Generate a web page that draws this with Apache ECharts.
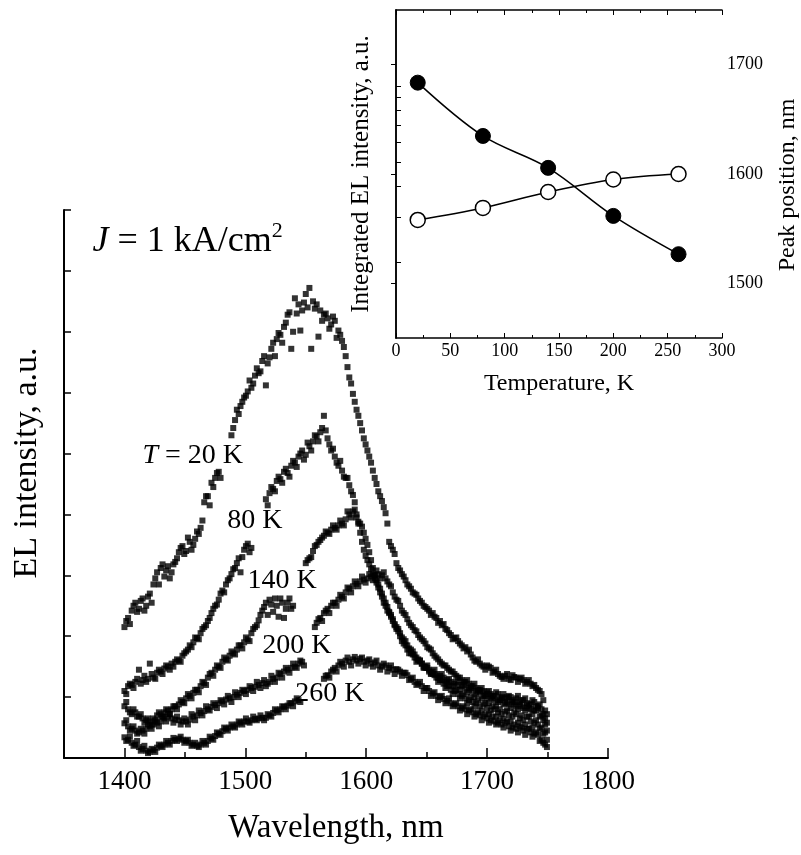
<!DOCTYPE html>
<html>
<head>
<meta charset="utf-8">
<script src="https://cdn.jsdelivr.net/npm/echarts@6/dist/echarts.min.js"></script>
<style>
html,body{margin:0;padding:0;background:#fff;}
#c{width:801px;height:855px;}
</style>
</head>
<body>
<div id="c"></div>
<script>
// ---- main panel: EL spectra (wavelength nm, intensity a.u.) ----
// readings along each point cloud, two interleaved sample sets (A and B)
const wavelengthsA = [1400,1403,1406,1409,1412,1415,1418,1421,1424,1427,1430,1433,1436,1439,1442,1445,1448,1451,1454,1457,1460,1463,1466,1469,1472,1475,1478,1481,1484,1487,1490,1493,1496,1499,1502,1505,1508,1511,1514,1517,1520,1523,1526,1529,1532,1535,1538,1541,1544,1547,1550,1553,1556,1559,1562,1565,1568,1571,1574,1577,1580,1583,1586,1589,1592,1595,1598,1601,1604,1607,1610,1613,1616,1619,1622,1625,1628,1631,1634,1637,1640,1643,1646,1649,1652,1655,1658,1661,1664,1667,1670,1673,1676,1679,1682,1685,1688,1691,1694,1697,1700,1703,1706,1709,1712,1715,1718,1721,1724,1727,1730,1733,1736,1739,1742,1745,1748];
const wavelengthsB = [
  1401.5,1404.5,1407.5,1410.5,1413.5,1416.5,1419.5,1422.5,1425.5,1428.5,
  1431.5,1434.5,1437.5,1440.5,1443.5,1446.5,1449.5,1452.5,1455.5,1458.5,
  1461.5,1464.5,1467.5,1470.5,1473.5,1476.5,1479.5,1482.5,1485.5,1488.5,
  1491.5,1494.5,1497.5,1500.5,1503.5,1506.5,1509.5,1512.5,1515.5,1518.5,
  1521.5,1524.5,1527.5,1530.5,1533.5,1536.5,1539.5,1542.5,1545.5,1548.5,
  1551.5,1554.5,1557.5,1560.5,1563.5,1566.5,1569.5,1572.5,1575.5,1578.5,
  1581.5,1584.5,1587.5,1590.5,1593.5,1596.5,1599.5,1602.5,1605.5,1608.5,
  1611.5,1614.5,1617.5,1620.5,1623.5,1626.5,1629.5,1632.5,1635.5,1638.5,
  1641.5,1644.5,1647.5,1650.5,1653.5,1656.5,1659.5,1662.5,1665.5,1668.5,
  1671.5,1674.5,1677.5,1680.5,1683.5,1686.5,1689.5,1692.5,1695.5,1698.5,
  1701.5,1704.5,1707.5,1710.5,1713.5,1716.5,1719.5,1722.5,1725.5,1728.5,
  1731.5,1734.5,1737.5,1740.5,1743.5,1746.5,1749.5];
// null = hidden behind a curve label in the original figure
const el20K_A  = [2.15,2.3,2.42,2.55,2.45,2.62,2.5,2.7,2.85,3.05,3.12,2.98,3.15,3.05,3.22,3.38,3.48,3.4,3.55,3.5,3.72,3.78,4.2,4.3,4.52,4.6,4.7,null,null,null,5.42,5.72,5.78,5.92,6.02,6.08,6.28,6.32,6.52,6.12,6.58,6.82,6.88,6.95,7.08,7.28,6.72,7.55,7.45,7.35,7.62,7.72,7.5,7.45,7.35,7.28,7.22,7.12,7.18,7.02,6.85,6.6,6.25,5.98,5.72,5.5,5.25,5.05,4.85,4.6,4.38,4.22,4.02,3.55,3.42,3.2,3.08,2.98,2.85,2.78,2.7,2.62,2.55,2.48,2.42,2.38,2.3,2.25,2.2,2.1,2.02,1.97,1.92,1.85,1.82,1.78,1.65,1.58,1.55,1.5,1.52,1.48,1.42,1.38,1.33,1.35,1.3,1.36,1.32,1.3,1.28,1.25,1.22,1.2,1.12,1.05,0.78];
const el20K_B  = [
  2.25,2.2,2.5,2.4,2.58,2.42,2.65,2.55,2.95,2.85,
  3.18,3.08,2.95,3.18,3.28,3.45,3.35,3.62,3.42,3.6,
  3.68,3.9,4.3,4.15,4.45,4.68,4.6,null,null,5.3,
  5.55,5.65,5.85,5.95,6.2,6.15,6.4,6.35,6.6,6.48,
  6.72,6.6,6.98,6.82,7.15,7.32,7.0,7.3,7.02,7.48,
  7.4,6.72,7.38,6.92,7.18,7.3,7.05,7.25,6.9,6.95,
  6.75,6.42,6.15,5.85,5.62,5.38,5.15,4.95,4.72,4.5,
  4.3,4.12,3.85,3.48,3.35,3.12,3.02,2.92,2.82,2.72,
  2.68,2.58,2.5,2.45,2.35,2.32,2.22,2.18,2.12,2.05,
  1.95,1.98,1.88,1.8,1.75,1.7,1.6,1.62,1.52,1.45,
  1.5,1.4,1.45,1.35,1.3,1.38,1.28,1.33,1.25,1.32,
  1.22,1.28,1.18,1.15,1.1,0.95,0.72];
const el80K_A  = [1.1,1.18,1.2,1.25,1.45,1.28,1.25,1.55,1.32,1.4,1.42,1.47,1.5,1.55,1.58,1.6,1.68,1.75,1.85,1.9,1.97,2.05,2.15,2.25,2.38,2.5,2.6,2.75,2.85,2.95,3.1,3.2,3.05,3.42,3.52,3.45,null,null,null,4.25,4.35,4.42,4.55,4.58,4.7,4.68,4.8,4.85,4.95,5.05,4.98,5.12,5.2,5.28,5.35,5.62,5.25,5.05,4.95,4.8,4.72,4.6,4.48,4.32,4.0,3.7,3.42,3.25,3.1,2.95,2.8,2.65,2.5,2.38,2.25,2.12,2.0,1.88,1.78,1.72,1.65,1.6,1.55,1.5,1.45,1.42,1.38,1.35,1.32,1.28,1.25,1.22,1.2,1.18,1.15,1.12,1.1,1.05,1.08,1.02,0.98,1.0,0.95,0.92,0.98,0.9,0.88,0.92,0.85,0.88,0.82,0.85,0.8,0.78,0.82,0.7,0.55];
const el80K_B  = [
  1.05,1.22,1.15,1.3,1.22,1.35,1.3,1.38,1.3,1.45,
  1.38,1.52,1.45,1.5,1.62,1.58,1.72,1.78,1.82,1.98,
  1.95,2.12,2.18,2.3,2.45,2.52,2.7,2.72,2.92,3.02,
  3.12,3.28,3.3,3.48,3.38,null,null,null,null,4.15,
  4.45,4.38,4.62,4.52,4.75,4.62,4.88,4.78,5.0,4.9,
  5.18,5.05,5.3,5.2,5.42,5.38,5.15,5.08,4.85,4.88,
  4.62,4.6,4.38,4.2,3.85,3.55,3.32,3.18,3.02,2.88,
  2.72,2.55,2.42,2.32,2.18,2.08,1.92,1.85,1.72,1.7,
  1.58,1.6,1.48,1.52,1.4,1.45,1.32,1.38,1.25,1.3,
  1.18,1.25,1.12,1.2,1.08,1.15,1.0,1.12,0.98,1.05,
  0.9,1.02,0.85,0.95,0.88,1.0,0.82,0.92,0.8,0.95,
  0.78,0.88,0.72,0.85,0.68,0.62,0.45];
const el140K_A = [0.85,0.8,0.72,0.75,0.68,0.65,0.62,0.6,0.65,0.7,0.72,0.75,0.78,0.8,0.85,0.88,0.92,0.98,1.02,1.07,1.12,1.18,1.23,1.32,1.4,1.45,1.5,1.58,1.62,1.68,1.72,1.78,1.85,1.9,1.95,2.05,2.15,2.26,2.42,2.55,2.6,2.4,2.5,2.62,2.3,2.55,2.45,null,null,null,3.2,3.28,3.4,3.5,3.58,3.65,3.7,3.75,3.78,3.82,3.85,3.92,4.0,4.05,3.95,3.85,3.7,3.5,3.25,3.0,2.85,2.7,2.55,2.4,2.28,2.15,2.05,1.95,1.85,1.78,1.7,1.62,1.55,1.48,1.42,1.38,1.32,1.28,1.22,1.18,1.12,1.1,1.05,1.02,0.98,0.95,0.92,0.9,0.85,0.88,0.82,0.78,0.8,0.75,0.72,0.76,0.7,0.68,0.72,0.65,0.62,0.68,0.6,0.58,0.55,0.5,0.42];
const el140K_B = [
  0.92,0.75,0.8,0.68,0.72,0.58,0.65,0.55,0.62,0.75,
  0.68,0.8,0.72,0.85,0.8,0.95,0.9,1.05,0.98,1.12,
  1.08,1.25,1.2,1.38,1.35,1.52,1.48,1.65,1.6,1.75,
  1.7,1.85,1.8,1.98,1.92,2.12,2.18,2.35,2.48,2.35,
  2.52,2.62,2.32,2.55,2.45,2.62,2.5,null,null,null,
  3.25,3.3,3.48,3.55,3.62,3.72,3.68,3.82,3.75,3.9,
  3.82,4.05,3.95,4.08,3.88,3.8,3.6,3.38,3.12,2.92,
  2.78,2.62,2.48,2.35,2.2,2.12,1.98,1.92,1.8,1.75,
  1.65,1.6,1.5,1.48,1.38,1.36,1.25,1.28,1.15,1.2,
  1.05,1.12,0.98,1.05,0.9,1.0,0.85,0.95,0.78,0.9,
  0.72,0.85,0.68,0.8,0.65,0.78,0.6,0.75,0.58,0.7,
  0.55,0.68,0.5,0.62,0.48,0.4,0.3];
const el200K_A = [0.57,0.52,0.48,0.45,0.42,0.45,0.48,0.52,0.55,0.58,0.6,0.65,0.68,0.65,0.63,0.62,0.6,0.6,0.63,0.68,0.7,0.74,0.77,0.8,0.84,0.87,0.9,0.93,0.96,0.98,1.0,1.04,1.07,1.1,1.12,1.15,1.17,1.2,1.23,1.18,1.25,1.3,1.32,1.38,1.42,1.45,1.48,1.5,1.55,1.58,null,null,null,2.22,2.3,2.38,2.45,2.5,2.55,2.6,2.65,2.72,2.78,2.82,2.86,2.9,2.93,2.95,2.98,3.0,3.02,3.0,2.95,2.85,2.72,2.6,2.5,2.38,2.28,2.18,2.1,2.02,1.95,1.88,1.8,1.72,1.65,1.58,1.52,1.48,1.42,1.38,1.32,1.28,1.25,1.22,1.18,1.15,1.12,1.1,1.08,1.05,1.02,1.05,1.0,0.98,1.02,0.95,0.98,0.92,0.95,0.9,0.88,0.92,0.85,0.8,0.65];
const el200K_B = [
  0.62,0.45,0.52,0.4,0.48,0.4,0.55,0.48,0.6,0.52,
  0.68,0.6,0.72,0.58,0.68,0.55,0.65,0.55,0.72,0.62,
  0.78,0.7,0.85,0.78,0.9,0.82,0.95,0.88,1.02,0.92,
  1.08,1.0,1.12,1.05,1.18,1.1,1.25,1.15,1.28,1.22,
  1.35,1.25,1.4,1.32,1.48,1.4,1.55,1.48,1.6,1.52,
  null,null,2.15,2.28,2.25,2.42,2.38,2.55,2.5,2.68,
  2.62,2.8,2.72,2.9,2.82,2.98,2.88,3.02,2.92,3.08,
  2.95,3.05,2.9,2.82,2.65,2.58,2.42,2.35,2.22,2.15,
  2.08,1.98,1.92,1.82,1.78,1.68,1.62,1.55,1.52,1.45,
  1.42,1.35,1.32,1.25,1.28,1.18,1.22,1.1,1.15,1.02,
  1.1,0.98,1.08,0.95,1.05,0.92,1.0,0.88,1.02,0.85,
  0.98,0.82,0.95,0.78,0.88,0.72,0.58];
const el260K_A = [0.34,0.3,0.25,0.22,0.18,0.15,0.12,0.1,0.13,0.17,0.2,0.22,0.25,0.28,0.3,0.32,0.3,0.28,0.25,0.22,0.2,0.22,0.25,0.28,0.32,0.36,0.4,0.44,0.48,0.5,0.52,0.55,0.58,0.6,0.6,0.62,0.64,0.65,0.66,0.66,0.7,0.74,0.78,0.8,0.84,0.86,0.9,0.93,0.95,null,null,null,null,null,null,1.3,1.36,1.42,1.48,1.52,1.55,1.6,1.58,1.62,1.6,1.63,1.58,1.6,1.55,1.57,1.52,1.5,1.52,1.48,1.45,1.46,1.42,1.4,1.36,1.3,1.25,1.22,1.18,1.15,1.1,1.06,1.02,1.0,0.97,0.94,0.9,0.88,0.85,0.82,0.8,0.78,0.75,0.72,0.7,0.68,0.65,0.62,0.6,0.58,0.55,0.58,0.52,0.5,0.48,0.52,0.45,0.48,0.42,0.4,0.38,0.3,0.22];
const el260K_B = [
  0.28,0.35,0.2,0.28,0.12,0.2,0.08,0.15,0.1,0.22,
  0.18,0.28,0.22,0.33,0.28,0.35,0.25,0.3,0.2,0.25,
  0.18,0.28,0.22,0.35,0.3,0.42,0.38,0.5,0.45,0.55,
  0.5,0.6,0.55,0.65,0.58,0.68,0.62,0.7,0.62,0.72,
  0.68,0.8,0.75,0.85,0.8,0.9,0.85,0.98,0.92,null,
  null,null,null,null,null,1.35,1.32,1.45,1.42,1.58,
  1.5,1.65,1.52,1.66,1.55,1.65,1.52,1.62,1.5,1.6,
  1.45,1.55,1.42,1.52,1.38,1.45,1.35,1.4,1.28,1.32,
  1.2,1.25,1.1,1.15,1.02,1.08,0.95,1.02,0.9,0.98,
  0.85,0.9,0.78,0.85,0.72,0.8,0.68,0.75,0.62,0.72,
  0.58,0.68,0.55,0.62,0.5,0.6,0.45,0.55,0.42,0.5,
  0.38,0.48,0.35,0.42,0.28,0.25,0.18];
const spectraNames = ['20 K','80 K','140 K','200 K','260 K'];
const wlTicks = [1400,1500,1600,1700,1800];
const wlMinorTicks = [1450,1550,1650,1750];

// ---- inset data ----
const temperatures = [20,80,140,200,260];
const integratedEL = [10.3,6.33,4.73,3.05,2.15];   // log axis, a.u.
const peakPosition = [1558,1569,1583.5,1595,1600]; // nm
const intTicks = [2,3,4,5,6,7,8,9,10];
const peakTicks = [1500,1600,1700];

const serif = '"Liberation Serif","DejaVu Serif",serif';
const chart = echarts.init(document.getElementById('c'), null, {renderer:'canvas'});

function pairs(xs, ys){
  const out = [];
  const n = Math.min(xs.length, ys.length);
  for (let i=0;i<n;i++){ if (ys[i] !== null) out.push([xs[i], ys[i]]); }
  return out;
}
const spectra = [
  [el20K_A, el20K_B], [el80K_A, el80K_B], [el140K_A, el140K_B],
  [el200K_A, el200K_B], [el260K_A, el260K_B]
];
const plain = v => String(v);

const option = {
  animation:false,
  backgroundColor:'#fff',
  grid:[
    {left:64, top:210, width:544, height:548},
    {left:396, top:10, width:327, height:328, backgroundColor:'#fff', show:true, borderWidth:0}
  ],
  xAxis:[
    {gridIndex:0, type:'value', min:1350, max:1800, position:'bottom',
     axisLine:{show:true, lineStyle:{color:'#000', width:2}},
     axisTick:{show:true, inside:true, length:10, customValues:wlTicks, lineStyle:{color:'#000', width:1.5}},
     axisLabel:{show:true, customValues:wlTicks, formatter:plain, color:'#000', fontFamily:serif, fontSize:27, margin:10},
     splitLine:{show:false},
     name:'Wavelength, nm', nameLocation:'middle', nameGap:54,
     nameTextStyle:{color:'#000', fontFamily:serif, fontSize:33}},
    {gridIndex:0, type:'value', min:1350, max:1800, position:'bottom',
     axisLine:{show:false},
     axisTick:{show:true, inside:true, length:6, customValues:wlMinorTicks, lineStyle:{color:'#000', width:1.5}},
     axisLabel:{show:false}, splitLine:{show:false}},
    {gridIndex:1, type:'value', min:0, max:300, interval:50, position:'bottom',
     axisLine:{show:true, lineStyle:{color:'#000', width:1.5}},
     axisTick:{show:true, inside:true, length:5, lineStyle:{color:'#000', width:1}},
     minorTick:{show:true, splitNumber:2, length:3, lineStyle:{color:'#000', width:1}},
     axisLabel:{color:'#000', fontFamily:serif, fontSize:18, margin:4},
     splitLine:{show:false},
     name:'Temperature, K', nameLocation:'middle', nameGap:34,
     nameTextStyle:{color:'#000', fontFamily:serif, fontSize:24}},
    {gridIndex:1, type:'value', min:0, max:300, interval:50, position:'top',
     axisLine:{show:true, lineStyle:{color:'#000', width:1.5}},
     axisTick:{show:true, inside:true, length:5, lineStyle:{color:'#000', width:1}},
     minorTick:{show:true, splitNumber:2, length:3, lineStyle:{color:'#000', width:1}},
     axisLabel:{show:false}, splitLine:{show:false}}
  ],
  yAxis:[
    {gridIndex:0, type:'value', min:0, max:9, interval:1,
     axisLine:{show:true, lineStyle:{color:'#000', width:2}},
     axisTick:{show:true, inside:true, length:7, lineStyle:{color:'#000', width:1.5}},
     axisLabel:{show:false}, splitLine:{show:false},
     name:'EL intensity, a.u.', nameLocation:'middle', nameGap:20,
     nameTextStyle:{color:'#000', fontFamily:serif, fontSize:34, padding:[0,0,0,42]}},
    {gridIndex:1, type:'log', logBase:10, min:1, max:20,
     axisLine:{show:true, lineStyle:{color:'#000', width:1.5}},
     axisTick:{show:true, inside:true, length:5, customValues:intTicks, lineStyle:{color:'#000', width:1}},
     axisLabel:{show:false}, splitLine:{show:false}, minorTick:{show:false},
     name:'Integrated EL intensity, a.u.', nameLocation:'middle', nameGap:22,
     nameTextStyle:{color:'#000', fontFamily:serif, fontSize:25}},
    {gridIndex:1, type:'value', min:1450, max:1750, position:'right',
     axisLine:{show:true, lineStyle:{color:'#000', width:1.5}},
     axisTick:{show:true, inside:true, length:5, customValues:peakTicks, lineStyle:{color:'#000', width:1}},
     axisLabel:{show:true, customValues:peakTicks, formatter:plain, color:'#000', fontFamily:serif, fontSize:18, margin:5},
     splitLine:{show:false},
     name:'Peak position, nm', nameLocation:'middle', nameGap:54,
     nameTextStyle:{color:'#000', fontFamily:serif, fontSize:24, padding:[0,22,0,0]}}
  ],
  series:[
    ...spectra.map((sets,k)=>({
      type:'scatter', xAxisIndex:0, yAxisIndex:0, name:spectraNames[k],
      symbol:'rect', symbolSize:6, itemStyle:{color:'#000'},
      data:pairs(wavelengthsA, sets[0]).concat(pairs(wavelengthsB, sets[1])), silent:true
    })),
    {type:'line', xAxisIndex:2, yAxisIndex:1, name:'Integrated EL',
     data:temperatures.map((t,i)=>[t, integratedEL[i]]),
     smooth:0.35, symbol:'circle', symbolSize:15, showAllSymbol:true,
     lineStyle:{color:'#000', width:1.5},
     itemStyle:{color:'#000', borderColor:'#000', borderWidth:1}},
    {type:'line', xAxisIndex:2, yAxisIndex:2, name:'Peak position',
     data:temperatures.map((t,i)=>[t, peakPosition[i]]),
     smooth:0.35, symbol:'circle', symbolSize:15, showAllSymbol:true,
     lineStyle:{color:'#000', width:1.5},
     itemStyle:{color:'#fff', borderColor:'#000', borderWidth:1.5}}
  ]
};
chart.setOption(option);

// annotations placed in data coordinates of the main panel
const annotations = [
  {wl:1373.6, v:8.49, rich:'{i|J} = 1 kA/cm{sup|2}', size:36},
  {wl:1414.9, v:4.97, rich:'{i|T} = 20 K', size:28},
  {wl:1485.1, v:3.90, rich:'80 K', size:28},
  {wl:1501.7, v:2.92, rich:'140 K', size:28},
  {wl:1514.0, v:1.84, rich:'200 K', size:28},
  {wl:1541.3, v:1.05, rich:'260 K', size:28}
];
const graphics = annotations.map(a=>{
  const p = chart.convertToPixel({xAxisIndex:0, yAxisIndex:0}, [a.wl, a.v]);
  return {type:'text', x:p[0], y:p[1], z:100,
    style:{text:a.rich, fill:'#000', font: a.size+'px '+serif, textAlign:'left', textVerticalAlign:'middle',
      rich:{i:{fontStyle:'italic', fontSize:a.size, fontFamily:serif},
            sup:{fontSize:Math.round(a.size*0.6), fontFamily:serif, padding:[0,0,a.size*0.55,0]}}}};
});
chart.setOption({graphic:graphics});
</script>
</body>
</html>
